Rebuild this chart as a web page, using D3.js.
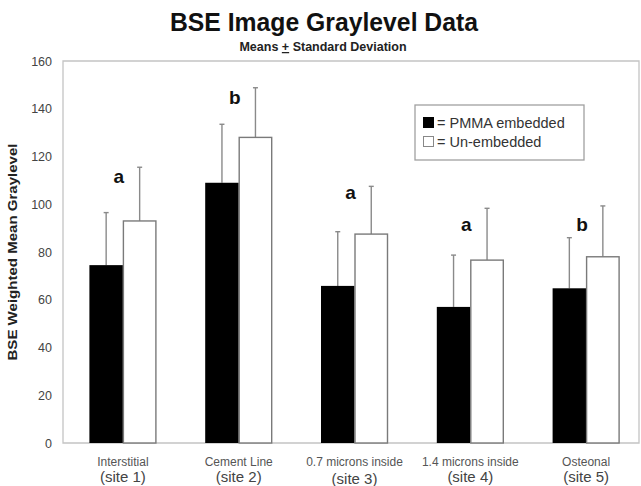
<!DOCTYPE html>
<html>
<head>
<meta charset="utf-8">
<script src="https://cdn.jsdelivr.net/npm/d3@7"></script>
<style>
  html, body { margin: 0; padding: 0; background: #fff; }
  svg { display: block; font-family: "Liberation Sans", Arial, sans-serif; }
</style>
</head>
<body>
<svg id="chart" width="641" height="486"></svg>
<script>
const categories = ["Interstitial", "Cement Line", "0.7 microns inside", "1.4 microns inside", "Osteonal"];
const sites = ["(site 1)", "(site 2)", "(site 3)", "(site 4)", "(site 5)"];
const seriesNames = ["PMMA embedded", "Un-embedded"];
const pmmaMeans = [74.5, 109, 65.8, 57, 64.8];
const pmmaSD = [22, 24.5, 22.7, 21.7, 21.2];
const unembMeans = [93, 128, 87.5, 76.6, 78];
const unembSD = [22.5, 20.8, 20, 21.7, 21.3];
const letters = ["a", "b", "a", "a", "b"];
const letterLevels = [109, 142, 102, 89, 89];
const yTicks = [0, 20, 40, 60, 80, 100, 120, 140, 160];

const svg = d3.select("#chart");
const plot = { left: 63, right: 639, top: 61, bottom: 443 };

const y = d3.scaleLinear().domain([0, 160]).range([plot.bottom, plot.top]);
const x = d3.scaleBand().domain(categories).range([65, 644]);
const sub = d3.scaleBand().domain(seriesNames).range([-33.5, 33.5]);

// frame (light gray axes + top/right border)
svg.append("path")
  .attr("d", `M${plot.left},${plot.top}H${plot.right}V${plot.bottom}H${plot.left}Z`)
  .attr("fill", "none").attr("stroke", "#c4c4c4").attr("stroke-width", 1.3);

// y axis tick labels
const yAxis = d3.axisLeft(y).tickValues(yTicks).tickSize(0).tickPadding(11);
const gy = svg.append("g").attr("transform", `translate(${plot.left},0)`).call(yAxis);
gy.select(".domain").remove();
gy.selectAll("text").attr("font-size", 12.5).attr("fill", "#444")
  .attr("font-family", "Liberation Sans, Arial, sans-serif");

// data rows
const rows = categories.map((c, i) => ({
  cat: c, site: sites[i],
  vals: [
    { s: seriesNames[0], m: pmmaMeans[i], sd: pmmaSD[i] },
    { s: seriesNames[1], m: unembMeans[i], sd: unembSD[i] }
  ],
  letter: letters[i], level: letterLevels[i]
}));

const groups = svg.append("g").selectAll("g").data(rows).join("g")
  .attr("transform", d => `translate(${x(d.cat) + x.bandwidth() / 2},0)`);

// error bars (behind bars)
groups.selectAll("g.err").data(d => d.vals).join("g").attr("class", "err")
  .each(function (d) {
    const g = d3.select(this);
    const cx = sub(d.s) + sub.bandwidth() / 2;
    g.append("line").attr("x1", cx).attr("x2", cx)
      .attr("y1", y(d.m)).attr("y2", y(d.m + d.sd))
      .attr("stroke", "#8a8a8a").attr("stroke-width", 1.4);
    g.append("line").attr("x1", cx - 2.5).attr("x2", cx + 2.5)
      .attr("y1", y(d.m + d.sd)).attr("y2", y(d.m + d.sd))
      .attr("stroke", "#8a8a8a").attr("stroke-width", 1.4);
  });

groups.selectAll("rect").data(d => d.vals).join("rect")
  .attr("x", d => sub(d.s) + (d.s === seriesNames[1] ? 0.5 : 0))
  .attr("width", d => sub.bandwidth() - (d.s === seriesNames[1] ? 1 : 0))
  .attr("y", d => y(d.m))
  .attr("height", d => y(0) - y(d.m))
  .attr("fill", d => d.s === seriesNames[0] ? "#000" : "#fff")
  .attr("stroke", d => d.s === seriesNames[0] ? "#000" : "#7a7a7a")
  .attr("stroke-width", d => d.s === seriesNames[0] ? 0 : 1.4);

// significance letters
groups.append("text")
  .attr("x", -4).attr("y", d => y(d.level))
  .attr("text-anchor", "middle")
  .attr("font-size", 19).attr("font-weight", "bold").attr("fill", "#111")
  .text(d => d.letter);

// category labels
groups.append("text")
  .attr("x", 0).attr("y", 466)
  .attr("text-anchor", "middle").attr("font-size", 12).attr("fill", "#555")
  .text(d => d.cat);
groups.append("text")
  .attr("x", 0).attr("y", (d, i) => i === 2 ? 484 : 482)
  .attr("text-anchor", "middle").attr("font-size", 15).attr("fill", "#444")
  .text(d => d.site);

// titles
svg.append("text").attr("x", 324).attr("y", 31).attr("text-anchor", "middle")
  .attr("font-size", 25).attr("font-weight", "bold").attr("fill", "#111")
  .attr("textLength", 308).attr("lengthAdjust", "spacingAndGlyphs")
  .text("BSE Image Graylevel Data");
const st = svg.append("text").attr("x", 323).attr("y", 51).attr("text-anchor", "middle")
  .attr("font-size", 12.5).attr("font-weight", "bold").attr("fill", "#222");
st.append("tspan").text("Means ");
st.append("tspan").attr("text-decoration", "underline").text("+");
st.append("tspan").text(" Standard Deviation");

// y axis title
svg.append("text")
  .attr("transform", "translate(17,252) rotate(-90)")
  .attr("text-anchor", "middle").attr("font-size", 12.5).attr("font-weight", "bold")
  .attr("fill", "#222").attr("textLength", 217).attr("lengthAdjust", "spacingAndGlyphs")
  .text("BSE Weighted Mean Graylevel");

// legend
const lg = svg.append("g");
lg.append("rect").attr("x", 415).attr("y", 105).attr("width", 169).attr("height", 55)
  .attr("fill", "#fff").attr("stroke", "#a0a0a0").attr("stroke-width", 1.3);
const items = lg.selectAll("g").data(seriesNames).join("g")
  .attr("transform", (d, i) => `translate(423,${117 + i * 19})`);
items.append("rect").attr("x", 0.5).attr("y", 0.5).attr("width", 10).attr("height", 10)
  .attr("fill", (d, i) => i === 0 ? "#000" : "#fff")
  .attr("stroke", (d, i) => i === 0 ? "#000" : "#888").attr("stroke-width", 1);
items.append("text").attr("x", 14).attr("y", 11)
  .attr("font-size", 14.5).attr("fill", "#333")
  .text(d => "= " + d);
</script>
</body>
</html>
